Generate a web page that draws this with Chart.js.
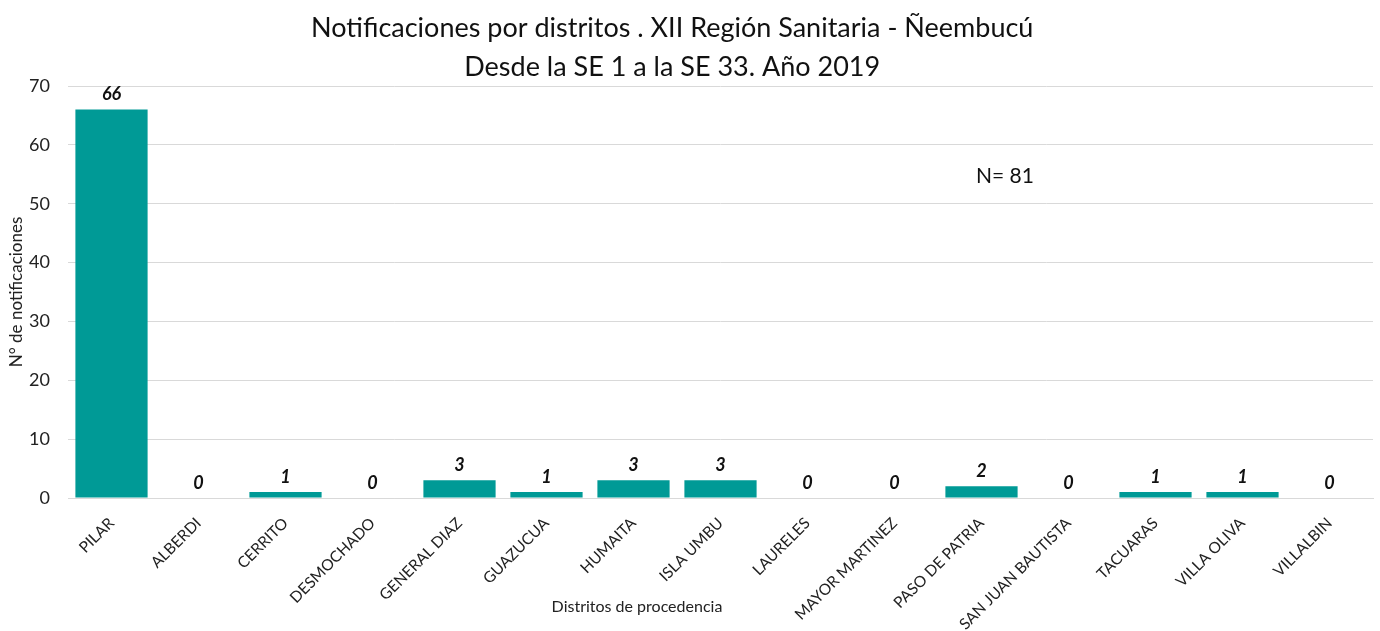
<!DOCTYPE html>
<html><head><meta charset="utf-8">
<script src="https://cdn.jsdelivr.net/npm/chart.js@4/dist/chart.umd.min.js"></script>
<style>html,body{margin:0;padding:0;background:#fff}#wrap{width:1380px;height:631px}</style>
</head><body><div id="wrap"><canvas id="c" width="1380" height="631"></canvas></div>
<script>
const categories = ["PILAR","ALBERDI","CERRITO","DESMOCHADO","GENERAL DIAZ","GUAZUCUA","HUMAITA","ISLA UMBU","LAURELES","MAYOR MARTINEZ","PASO DE PATRIA","SAN JUAN BAUTISTA","TACUARAS","VILLA OLIVA","VILLALBIN"];
const notificaciones = [66,0,1,0,3,1,3,3,0,0,2,0,1,1,0];
const titleLines = ["Notificaciones por distritos . XII Región Sanitaria - Ñeembucú","Desde la SE 1 a la SE 33. Año 2019"];
const totalLabel = "N= 81";
const xTitle = "Distritos de procedencia";
const yTitle = "N° de notificaciones";
const yTicks = {min:0,max:70,step:10};

const FONT = "Lato, 'Open Sans', sans-serif";

const valueLabels = {
  id:'valueLabels',
  afterDatasetsDraw(chart){
    const ctx = chart.ctx;
    const meta = chart.getDatasetMeta(0);
    ctx.save();
    ctx.font = "italic bold 18px " + FONT;
    ctx.fillStyle = "#111";
    ctx.textAlign = "center";
    ctx.textBaseline = "bottom";
    meta.data.forEach((el,i)=>{
      ctx.fillText(String(chart.data.datasets[0].data[i]), el.x, el.y - 6);
    });
    ctx.restore();
  }
};
const texts = {
  id:'texts',
  afterDraw(chart){
    const ctx = chart.ctx, a = chart.chartArea;
    const w = a.right - a.left, h = a.bottom - a.top;
    ctx.save();
    ctx.fillStyle = "#111";
    ctx.textAlign = "center";
    ctx.textBaseline = "middle";
    ctx.font = "27px " + FONT;
    ctx.fillText(titleLines[0], a.left + w*0.463, 28);
    ctx.fillText(titleLines[1], a.left + w*0.463, 67);
    ctx.font = "21px " + FONT;
    ctx.fillText(totalLabel, a.left + w*0.718, a.top + h*0.218);
    ctx.fillStyle = "#222";
    ctx.font = "16px " + FONT;
    ctx.fillText(xTitle, a.left + w*0.436, 607);
    ctx.restore();
  }
};

new Chart(document.getElementById('c'), {
  type:'bar',
  data:{labels:categories, datasets:[{data:notificaciones, backgroundColor:'#009A96', borderWidth:0, categoryPercentage:0.83, barPercentage:1}]},
  options:{
    responsive:false, animation:false,
    layout:{padding:{left:0,right:7,top:86,bottom:0}},
    plugins:{legend:{display:false}, tooltip:{enabled:false}, title:{display:false}},
    scales:{
      x:{
        grid:{display:false, drawTicks:false},
        border:{display:true,color:'#d9d9d9',width:1},
        ticks:{color:'#222', font:{family:FONT,size:15.5}, minRotation:45, maxRotation:45, autoSkip:false, padding:16},
        afterFit(s){ s.height = 133; }
      },
      y:{
        min:yTicks.min, max:yTicks.max,
        grid:{color:'#d9d9d9', drawTicks:false},
        border:{display:false},
        ticks:{stepSize:yTicks.step, color:'#222', font:{family:FONT,size:18}, padding:18},
        title:{display:true, text:yTitle, color:'#222', font:{family:FONT,size:17}, padding:{top:6,bottom:0}},
        afterFit(s){ s.width = 68; }
      }
    }
  },
  plugins:[valueLabels,texts]
});
</script></body></html>
